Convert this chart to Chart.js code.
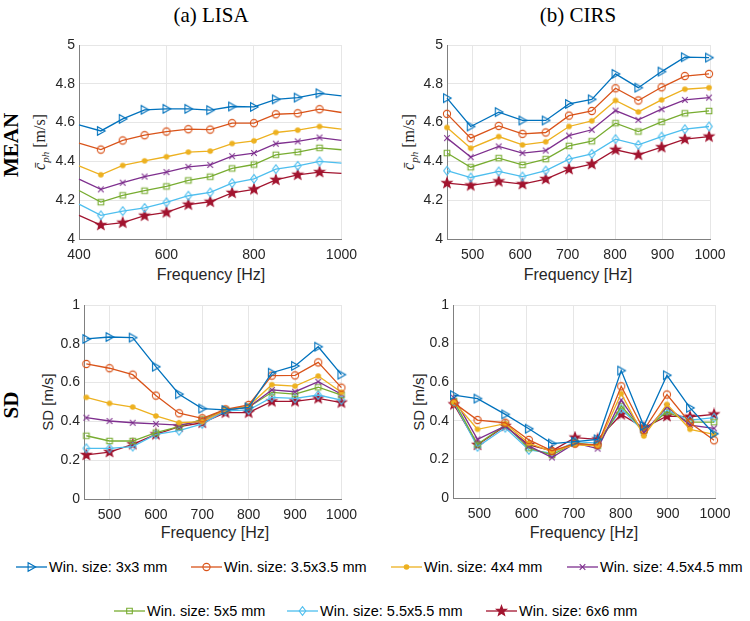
<!DOCTYPE html>
<html>
<head>
<meta charset="utf-8">
<script src="https://cdn.jsdelivr.net/npm/chart.js@4/dist/chart.umd.min.js"></script>
<style>
  body { margin: 0; background: #fff; }
  #wrap { position: relative; width: 750px; height: 621px; overflow: hidden;
          font-family: "Liberation Sans", Arial, sans-serif; color: #262626; }
  canvas.panel { position: absolute; }
  .lbl { position: absolute; white-space: nowrap; }
  .title { font-family: "Liberation Serif", "Times New Roman", serif; font-size: 21px; color: #000;
           transform: translate(-50%, -50%); }
  .rowlbl { font-family: "Liberation Serif", "Times New Roman", serif; font-weight: bold; font-size: 21px; color: #000;
            transform: translate(-50%, -50%) rotate(-90deg); }
  .ylab-tex { font-family: "Liberation Serif", "Times New Roman", serif; font-size: 16px;
              transform: translate(-50%, -50%) rotate(-90deg); }
  .ylab-tex sub { font-size: 11px; }
  .ylab { font-size: 15px; transform: translate(-50%, -50%) rotate(-90deg); }
  .xlab { font-size: 16px; transform: translate(-50%, -50%); }
  .leg { position: absolute; display: flex; align-items: center; font-size: 14.5px;
         transform: translateY(-50%); white-space: nowrap; color: #000; }
  .leg canvas { margin-right: 2px; }
</style>
</head>
<body>
<div id="wrap">
  <div class="lbl title" style="left:211px; top:15px;">(a) LISA</div>
  <div class="lbl title" style="left:578px; top:15px;">(b) CIRS</div>
  <div class="lbl rowlbl" style="left:11px; top:145px;">MEAN</div>
  <div class="lbl rowlbl" style="left:11px; top:405px;">SD</div>

  <div class="lbl ylab-tex" style="left:41px; top:142px;"><i>c̄</i><sub><i>ph</i></sub> [m/s]</div>
  <div class="lbl ylab-tex" style="left:410px; top:142px;"><i>c̄</i><sub><i>ph</i></sub> [m/s]</div>
  <div class="lbl ylab" style="left:47px; top:402px;">SD [m/s]</div>
  <div class="lbl ylab" style="left:418px; top:402px;">SD [m/s]</div>

  <div class="lbl xlab" style="left:211px; top:275px;">Frequency [Hz]</div>
  <div class="lbl xlab" style="left:578px; top:275px;">Frequency [Hz]</div>
  <div class="lbl xlab" style="left:215px; top:533px;">Frequency [Hz]</div>
  <div class="lbl xlab" style="left:584px; top:533px;">Frequency [Hz]</div>

  <canvas class="panel" id="meanLisa" width="365" height="250" style="left:0; top:30px;"></canvas>
  <canvas class="panel" id="meanCirs" width="380" height="250" style="left:370px; top:30px;"></canvas>
  <canvas class="panel" id="sdLisa" width="365" height="250" style="left:0; top:290px;"></canvas>
  <canvas class="panel" id="sdCirs" width="380" height="250" style="left:370px; top:290px;"></canvas>
</div>

<script>
// ---------- data ----------
const seriesNames = [
  "Win. size: 3x3 mm", "Win. size: 3.5x3.5 mm", "Win. size: 4x4 mm", "Win. size: 4.5x4.5 mm",
  "Win. size: 5x5 mm", "Win. size: 5.5x5.5 mm", "Win. size: 6x6 mm"
];
const seriesColors = ["#0072BD", "#D95319", "#EDB120", "#7E2F8E", "#77AC30", "#4DBEEE", "#A2142F"];
const seriesMarkers = ["tri", "circle", "dot", "cross", "square", "diamond", "star"];

// LISA mean: first and last values sit on the axis edges (no marker there)
const lisaMeanFreq = [400, 450, 500, 550, 600, 650, 700, 750, 800, 850, 900, 950, 1000];
const meanLisa3  = [4.588, 4.557, 4.619, 4.666, 4.671, 4.671, 4.664, 4.683, 4.681, 4.720, 4.729, 4.751, 4.738];
const meanLisa35 = [4.494, 4.461, 4.508, 4.535, 4.554, 4.566, 4.564, 4.597, 4.597, 4.643, 4.648, 4.669, 4.652];
const meanLisa4  = [4.377, 4.331, 4.379, 4.403, 4.424, 4.448, 4.453, 4.492, 4.506, 4.549, 4.561, 4.580, 4.566];
const meanLisa45 = [4.309, 4.256, 4.290, 4.322, 4.345, 4.372, 4.382, 4.427, 4.443, 4.491, 4.503, 4.523, 4.508];
const meanLisa5  = [4.250, 4.190, 4.225, 4.249, 4.271, 4.302, 4.321, 4.364, 4.384, 4.434, 4.448, 4.470, 4.460];
const meanLisa55 = [4.180, 4.122, 4.144, 4.160, 4.189, 4.223, 4.240, 4.288, 4.310, 4.360, 4.377, 4.400, 4.391];
const meanLisa6  = [4.122, 4.072, 4.084, 4.120, 4.137, 4.177, 4.192, 4.238, 4.256, 4.305, 4.331, 4.345, 4.338];

const cirsFreq = [446, 496, 555, 605, 654, 703, 751, 801, 849, 898, 947, 998];
const meanCirs3  = [4.726, 4.580, 4.654, 4.611, 4.611, 4.696, 4.720, 4.851, 4.780, 4.863, 4.937, 4.935];
const meanCirs35 = [4.645, 4.520, 4.583, 4.542, 4.549, 4.636, 4.660, 4.777, 4.714, 4.782, 4.840, 4.851];
const meanCirs4  = [4.575, 4.468, 4.528, 4.485, 4.501, 4.580, 4.609, 4.714, 4.655, 4.717, 4.772, 4.780];
const meanCirs45 = [4.520, 4.422, 4.477, 4.443, 4.456, 4.533, 4.563, 4.662, 4.614, 4.669, 4.717, 4.729];
const meanCirs5  = [4.443, 4.370, 4.417, 4.382, 4.412, 4.480, 4.504, 4.597, 4.554, 4.604, 4.648, 4.660];
const meanCirs55 = [4.352, 4.317, 4.348, 4.322, 4.353, 4.412, 4.439, 4.515, 4.485, 4.528, 4.566, 4.580];
const meanCirs6  = [4.288, 4.276, 4.297, 4.283, 4.309, 4.360, 4.386, 4.460, 4.434, 4.473, 4.515, 4.528];

const lisaSdFreq = [450, 500, 550, 600, 650, 700, 750, 800, 850, 900, 950, 1000];
const sdLisa3  = [0.825, 0.835, 0.832, 0.682, 0.540, 0.466, 0.459, 0.472, 0.651, 0.686, 0.785, 0.641];
const sdLisa35 = [0.696, 0.674, 0.641, 0.533, 0.442, 0.416, 0.462, 0.485, 0.636, 0.637, 0.704, 0.574];
const sdLisa4  = [0.524, 0.493, 0.474, 0.428, 0.393, 0.399, 0.460, 0.479, 0.589, 0.582, 0.634, 0.550];
const sdLisa45 = [0.419, 0.402, 0.393, 0.387, 0.381, 0.402, 0.458, 0.473, 0.562, 0.553, 0.605, 0.540];
const sdLisa5  = [0.326, 0.299, 0.299, 0.342, 0.373, 0.411, 0.460, 0.473, 0.550, 0.541, 0.576, 0.536];
const sdLisa55 = [0.261, 0.261, 0.270, 0.333, 0.352, 0.387, 0.454, 0.459, 0.524, 0.519, 0.536, 0.510];
const sdLisa6  = [0.227, 0.242, 0.282, 0.333, 0.373, 0.393, 0.445, 0.445, 0.503, 0.503, 0.519, 0.497];

const sdCirs3  = [0.533, 0.515, 0.433, 0.359, 0.282, 0.292, 0.304, 0.660, 0.373, 0.636, 0.467, 0.333];
const sdCirs35 = [0.493, 0.404, 0.390, 0.301, 0.244, 0.282, 0.275, 0.579, 0.352, 0.536, 0.390, 0.299];
const sdCirs4  = [0.498, 0.356, 0.385, 0.284, 0.241, 0.275, 0.270, 0.541, 0.321, 0.485, 0.356, 0.330];
const sdCirs45 = [0.519, 0.304, 0.373, 0.270, 0.210, 0.284, 0.256, 0.507, 0.338, 0.473, 0.378, 0.361];
const sdCirs5  = [0.502, 0.278, 0.378, 0.258, 0.223, 0.287, 0.270, 0.476, 0.347, 0.447, 0.393, 0.393];
const sdCirs55 = [0.497, 0.265, 0.364, 0.249, 0.232, 0.292, 0.284, 0.462, 0.344, 0.454, 0.404, 0.416];
const sdCirs6  = [0.485, 0.275, 0.373, 0.275, 0.244, 0.313, 0.304, 0.433, 0.364, 0.424, 0.421, 0.433];

const meanTicks = [4, 4.2, 4.4, 4.6, 4.8, 5];
const sdTicks = [0, 0.2, 0.4, 0.6, 0.8, 1];
const lisaMeanXTicks = [400, 600, 800, 1000];
const freqTicks = [500, 600, 700, 800, 900, 1000];

// ---------- markers (MATLAB look) ----------
function drawMarker(g, kind, x, y, color) {
  g.strokeStyle = color;
  g.fillStyle = color;
  g.lineWidth = 1.1;
  g.beginPath();
  if (kind === "tri") {
    g.moveTo(x + 4.2, y); g.lineTo(x - 3.4, y - 4.2); g.lineTo(x - 3.4, y + 4.2); g.closePath(); g.stroke();
  } else if (kind === "circle") {
    g.arc(x, y, 3.6, 0, Math.PI * 2); g.stroke();
  } else if (kind === "dot") {
    g.arc(x, y, 2.8, 0, Math.PI * 2); g.fill();
  } else if (kind === "cross") {
    g.moveTo(x - 2.8, y - 2.8); g.lineTo(x + 2.8, y + 2.8);
    g.moveTo(x - 2.8, y + 2.8); g.lineTo(x + 2.8, y - 2.8); g.stroke();
  } else if (kind === "square") {
    g.rect(x - 2.8, y - 2.8, 5.6, 5.6); g.stroke();
  } else if (kind === "diamond") {
    g.moveTo(x, y - 4.3); g.lineTo(x + 3.3, y); g.lineTo(x, y + 4.3); g.lineTo(x - 3.3, y); g.closePath(); g.stroke();
  } else if (kind === "star") {
    for (let i = 0; i < 10; i++) {
      const r = i % 2 ? 2.2 : 5.3;
      const a = -Math.PI / 2 + i * Math.PI / 5;
      if (i === 0) g.moveTo(x + r * Math.cos(a), y + r * Math.sin(a));
      else g.lineTo(x + r * Math.cos(a), y + r * Math.sin(a));
    }
    g.closePath(); g.fill(); g.stroke();
  }
}

function markerCanvas(kind, color) {
  const c = document.createElement("canvas");
  c.width = 14; c.height = 14;
  drawMarker(c.getContext("2d"), kind, 7, 7, color);
  return c;
}
const markerImgs = seriesMarkers.map((m, i) => markerCanvas(m, seriesColors[i]));

// ---------- charts ----------
Chart.defaults.font.family = '"Liberation Sans", Arial, sans-serif';
Chart.defaults.font.size = 14;
Chart.defaults.color = "#262626";

function toPoints(xs, ys) {
  return xs.map((x, i) => ({ x: x, y: ys[i] }));
}

function makePanel(id, cfg) {
  const datasets = cfg.series.map((vals, i) => ({
    label: seriesNames[i],
    data: toPoints(cfg.freq, vals),
    borderColor: seriesColors[i],
    backgroundColor: seriesColors[i],
    borderWidth: 1.3,
    pointStyle: markerImgs[i],
    pointRadius: (c) => (cfg.hideEnds && (c.dataIndex === 0 || c.dataIndex === cfg.freq.length - 1)) ? 0 : 3,
    tension: 0,
    fill: false,
    clip: false, // markers on the axis edges stay whole, as in MATLAB
  }));

  return new Chart(document.getElementById(id), {
    type: "line",
    data: { datasets: datasets },
    options: {
      responsive: false,
      animation: false,
      events: [],
      layout: { padding: { left: 0, top: cfg.padTop, right: cfg.padRight, bottom: 0 } },
      plugins: { legend: { display: false }, tooltip: { enabled: false } },
      scales: {
        x: {
          type: "linear",
          min: cfg.xMin,
          max: 1000,
          afterBuildTicks: (s) => { s.ticks = cfg.xTicks.map((v) => ({ value: v })); },
          afterFit: (s) => { s.height = cfg.xHeight; },
          ticks: { padding: 8, callback: (v) => String(v) },
          grid: { color: "#e6e6e6", drawTicks: false },
          border: { color: "#808080" },
        },
        y: {
          min: cfg.yTicks[0],
          max: cfg.yTicks[cfg.yTicks.length - 1],
          afterBuildTicks: (s) => { s.ticks = cfg.yTicks.map((v) => ({ value: v })); },
          afterFit: (s) => { s.width = cfg.yWidth; },
          ticks: { padding: 4, callback: (v) => String(+Number(v).toFixed(1)) },
          grid: { color: "#e6e6e6", drawTicks: false },
          border: { color: "#808080" },
        },
      },
    },
  });
}

makePanel("meanLisa", {
  freq: lisaMeanFreq, hideEnds: true, xMin: 400, xTicks: lisaMeanXTicks, yTicks: meanTicks,
  series: [meanLisa3, meanLisa35, meanLisa4, meanLisa45, meanLisa5, meanLisa55, meanLisa6],
  yWidth: 79, xHeight: 41, padTop: 15, padRight: 22,
});
makePanel("meanCirs", {
  freq: cirsFreq, hideEnds: false, xMin: 446, xTicks: freqTicks, yTicks: meanTicks,
  series: [meanCirs3, meanCirs35, meanCirs4, meanCirs45, meanCirs5, meanCirs55, meanCirs6],
  yWidth: 77, xHeight: 41, padTop: 15, padRight: 40,
});
makePanel("sdLisa", {
  freq: lisaSdFreq, hideEnds: false, xMin: 445, xTicks: freqTicks, yTicks: sdTicks,
  series: [sdLisa3, sdLisa35, sdLisa4, sdLisa45, sdLisa5, sdLisa55, sdLisa6],
  yWidth: 84, xHeight: 41, padTop: 15, padRight: 18,
});
makePanel("sdCirs", {
  freq: cirsFreq, hideEnds: false, xMin: 444, xTicks: freqTicks, yTicks: sdTicks,
  series: [sdCirs3, sdCirs35, sdCirs4, sdCirs45, sdCirs5, sdCirs55, sdCirs6],
  yWidth: 83, xHeight: 42, padTop: 15, padRight: 35,
});

// ---------- legend (two rows, like the figure) ----------
const legendSpots = [[16, 567], [191, 567], [391, 567], [567, 567], [114, 611], [287, 611], [486, 611]];
const wrap = document.getElementById("wrap");
seriesNames.forEach((name, i) => {
  const item = document.createElement("div");
  item.className = "leg";
  item.style.left = legendSpots[i][0] + "px";
  item.style.top = legendSpots[i][1] + "px";
  const sw = document.createElement("canvas");
  sw.width = 31; sw.height = 14;
  const g = sw.getContext("2d");
  g.strokeStyle = seriesColors[i];
  g.lineWidth = 1.3;
  g.beginPath(); g.moveTo(0, 7); g.lineTo(31, 7); g.stroke();
  drawMarker(g, seriesMarkers[i], 15.5, 7, seriesColors[i]);
  const txt = document.createElement("span");
  txt.textContent = name;
  item.appendChild(sw);
  item.appendChild(txt);
  wrap.appendChild(item);
});
</script>
</body>
</html>
